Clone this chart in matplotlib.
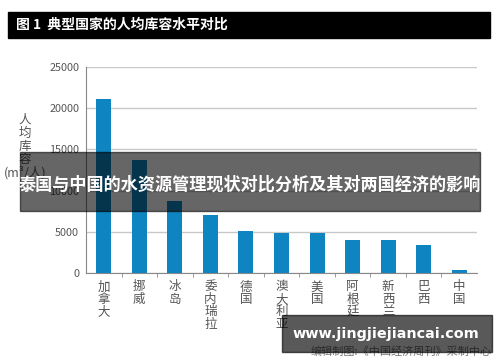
import matplotlib
matplotlib.use('Agg')
import matplotlib.pyplot as plt
from matplotlib.patches import Rectangle

plt.rcParams['font.family'] = ['Noto Sans CJK SC', 'DejaVu Sans']

countries = ['加拿大', '挪威', '冰岛', '委内瑞拉', '德国', '澳大利亚', '美国', '阿根廷', '新西兰', '巴西', '中国']
storage = [21100, 13700, 8700, 7000, 5100, 4900, 4850, 3950, 3950, 3400, 420]
yticks = [0, 5000, 10000, 15000, 20000, 25000]

title = '图 1  典型国家的人均库容水平对比'
banner = '泰国与中国的水资源管理现状对比分析及其对两国经济的影响'
site = 'www.jingjiejiancai.com'
source = '编辑制图:《中国经济周刊》采制中心'

W, H = 500, 362
fig = plt.figure(figsize=(W / 100, H / 100), dpi=100)
fig.patch.set_facecolor('white')

def fx(x):
    return x / W

def fy(y):
    return 1 - y / H

ax = fig.add_axes([fx(86), fy(273), fx(477) - fx(86), fy(67) - fy(273)])
x = list(range(len(countries)))
ax.bar(x, storage, width=0.42, color='#0e84c0', zorder=3)
ax.set_xlim(-0.5, len(countries) - 0.5)
ax.set_ylim(0, 25000)
ax.set_yticks(yticks)
ax.set_yticklabels([str(v) for v in yticks], fontsize=7.8, color='#555555')
ax.yaxis.grid(True, color='#c8c8c8', lw=1, zorder=0)
ax.tick_params(axis='y', length=0, pad=5)
ax.set_xticks(x)
ax.set_xticklabels([])
ax.tick_params(axis='x', which='major', length=0)
ax.set_xticks([i + 0.5 for i in range(len(countries) - 1)], minor=True)
ax.tick_params(axis='x', which='minor', length=3, color='#888888', direction='out')
for s in ['top', 'right']:
    ax.spines[s].set_visible(False)
ax.spines['left'].set_color('#888888')
ax.spines['bottom'].set_color('#888888')

for i, name in enumerate(countries):
    ax.text(i, -900, '\n'.join(name), ha='center', va='top', fontsize=9,
            color='#555555', linespacing=0.95)

# y label
fig.text(fx(25), fy(114), '人\n均\n库\n容\n(m³/人)', ha='center', va='top',
         fontsize=9, color='#555555', linespacing=1.0, multialignment='center')

# header band
fig.patches.append(Rectangle((fx(8), fy(38)), fx(490) - fx(8), fy(12) - fy(38),
                             transform=fig.transFigure, color='black', zorder=5))
fig.text(fx(16), fy(25), title, ha='left', va='center', fontsize=10,
         color='white', weight='bold', zorder=6)

# overlay banner
fig.patches.append(Rectangle((fx(20), fy(211)), fx(480) - fx(20), fy(152) - fy(211),
                             transform=fig.transFigure, color='black', alpha=0.6, zorder=7))
fig.text(fx(250), fy(185), banner, ha='center', va='center', fontsize=12.3,
         color='white', weight='bold', zorder=8)

# source line and site box
fig.text(fx(492), fy(352), source, ha='right', va='center', fontsize=8,
         color='#777777', zorder=5)
fig.patches.append(Rectangle((fx(282), fy(352)), fx(492) - fx(282), fy(315) - fy(352),
                             transform=fig.transFigure, color='black', alpha=0.65, zorder=7))
fig.text(fx(386), fy(334), site, ha='center', va='center', fontsize=10.4,
         color='white', weight='bold', family='DejaVu Sans', zorder=8)

fig.savefig('out.png', dpi=100)
